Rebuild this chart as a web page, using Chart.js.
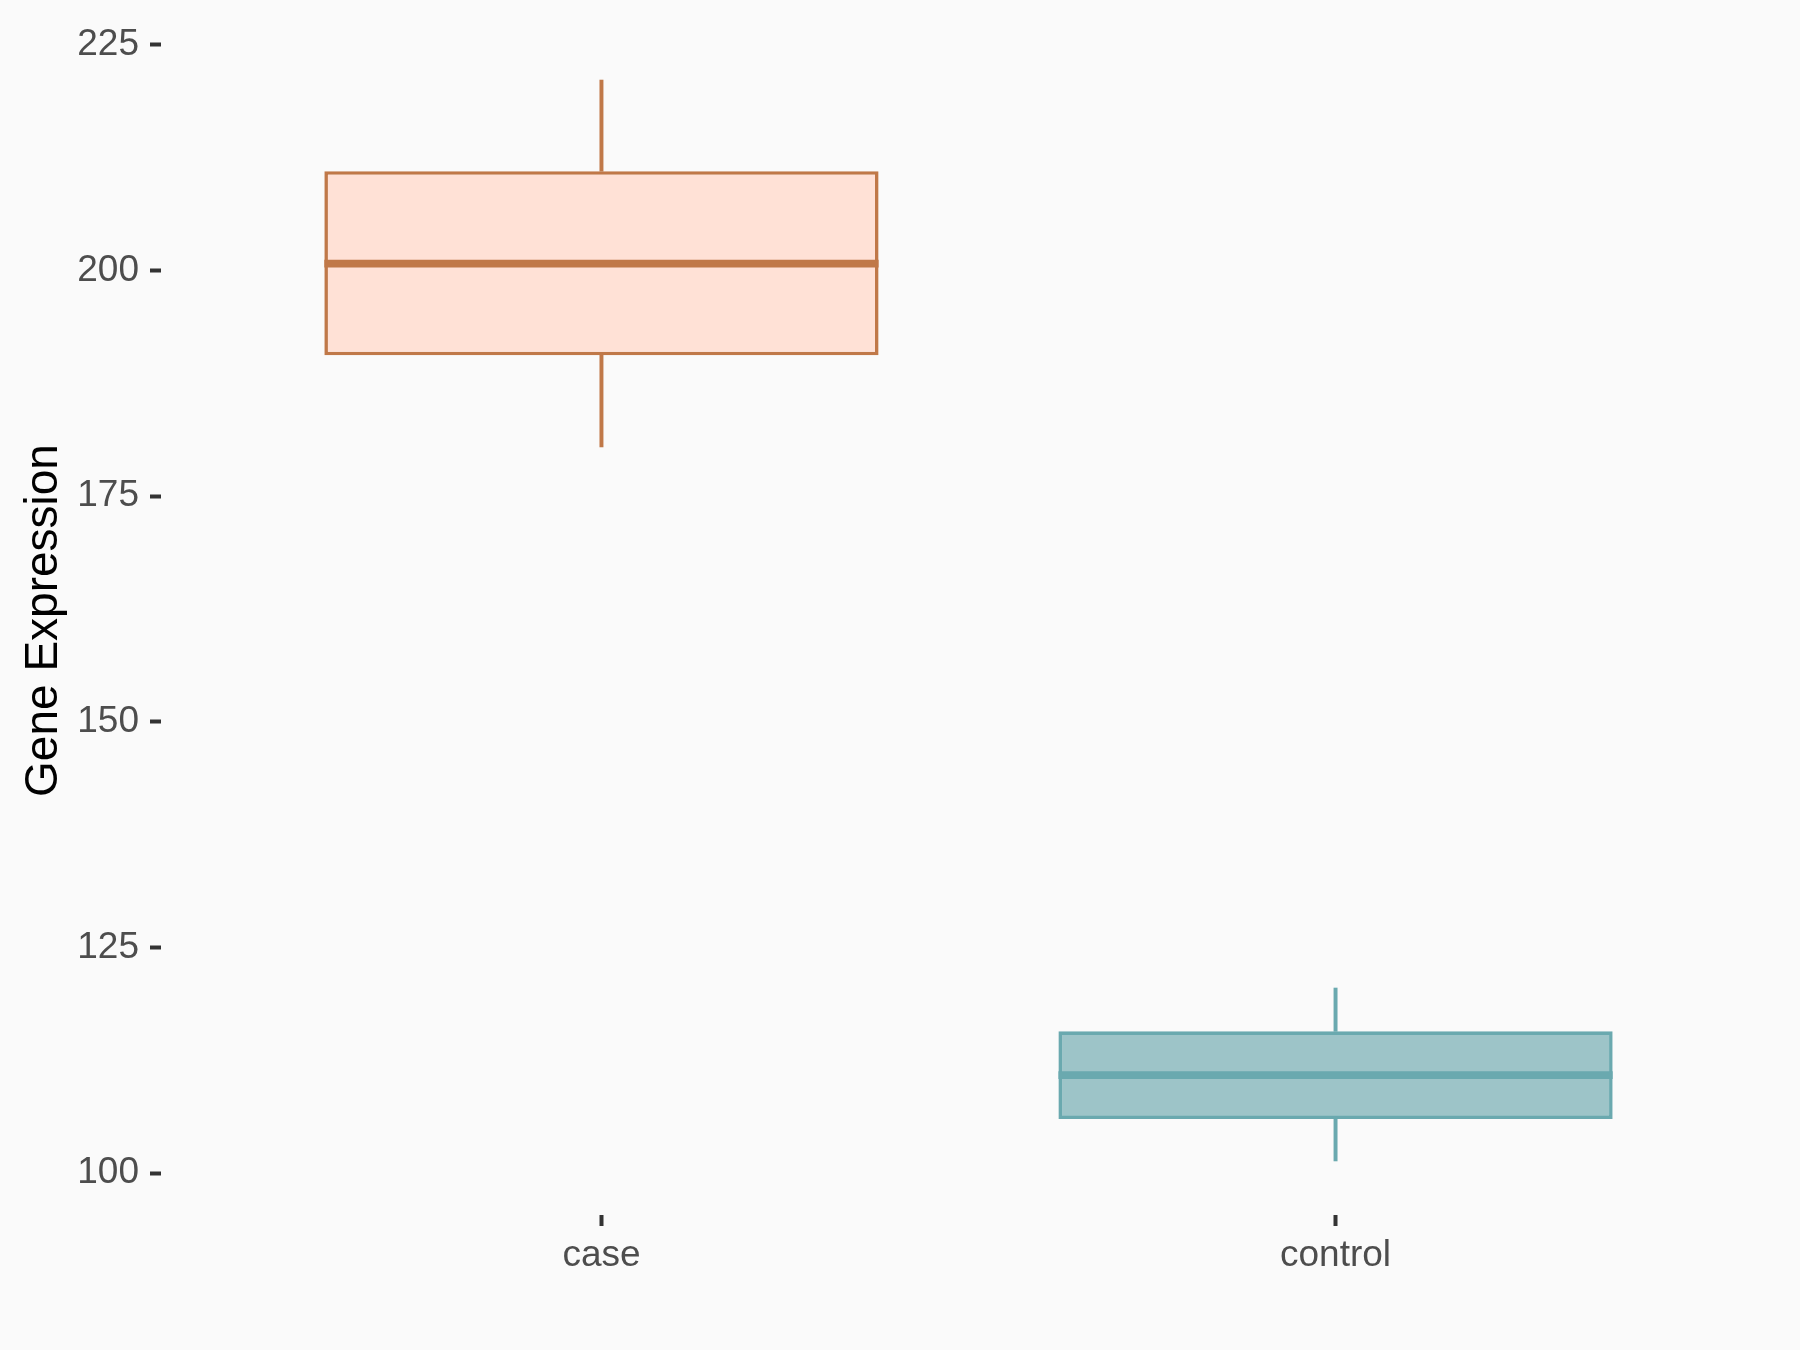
<!DOCTYPE html>
<html>
<head>
<meta charset="utf-8">
<script src="https://cdn.jsdelivr.net/npm/chart.js@4.4.1/dist/chart.umd.min.js"></script>
<style>
  html, body { margin: 0; padding: 0; background: #FAFAFA; }
  #wrap { width: 1800px; height: 1350px; position: relative; }
</style>
</head>
<body>
<div id="wrap"><canvas id="c"></canvas></div>
<script>
// ---- data ----
const categories  = ['case', 'control'];
const whiskerLow  = [180.45, 101.34];
const q1          = [190.6, 106.0];
const median      = [200.77, 110.86];
const q3          = [211.0, 115.7];
const whiskerHigh = [221.1, 120.5];
const yTicks      = [100, 125, 150, 175, 200, 225];

// ---- styles ----
const fillColors = ['#FFE1D6', '#9DC4C8'];
const lineColors = ['#C07848', '#6AA9AF'];

const xs = categories.map((c, i) => i + 1);
const lo = Math.min(...whiskerLow), hi = Math.max(...whiskerHigh);
const yPad = (hi - lo) * 0.05;

const bgPlugin = {
  id: 'bg',
  beforeDraw(chart) {
    const ctx = chart.ctx;
    ctx.save();
    ctx.fillStyle = '#FAFAFA';
    ctx.fillRect(0, 0, chart.width, chart.height);
    ctx.restore();
  }
};

const medianPlugin = {
  id: 'medianLines',
  afterDatasetsDraw(chart) {
    const meta = chart.getDatasetMeta(2); // box dataset
    const y = chart.scales.y;
    const ctx = chart.ctx;
    ctx.save();
    meta.data.forEach((bar, i) => {
      const p = bar.getProps(['x', 'width'], true);
      const py = y.getPixelForValue(median[i]);
      ctx.beginPath();
      ctx.strokeStyle = lineColors[i];
      ctx.lineWidth = 7.7;
      ctx.lineCap = 'butt';
      ctx.moveTo(p.x - p.width / 2, py);
      ctx.lineTo(p.x + p.width / 2, py);
      ctx.stroke();
    });
    ctx.restore();
  }
};

new Chart(document.getElementById('c'), {
  type: 'bar',
  data: {
    datasets: [
      {
        label: 'lower whisker',
        data: xs.map((x, i) => ({ x: x, y: [whiskerLow[i], q1[i]] })),
        backgroundColor: lineColors,
        borderWidth: 0,
        barThickness: 3.3,
        grouped: false
      },
      {
        label: 'upper whisker',
        data: xs.map((x, i) => ({ x: x, y: [q3[i], whiskerHigh[i]] })),
        backgroundColor: lineColors,
        borderWidth: 0,
        barThickness: 3.3,
        grouped: false
      },
      {
        label: 'box',
        data: xs.map((x, i) => ({ x: x, y: [q1[i], q3[i]] })),
        backgroundColor: fillColors,
        borderColor: lineColors,
        borderWidth: 3.6,
        borderSkipped: false,
        barPercentage: 0.755,
        categoryPercentage: 1.0,
        grouped: false
      }
    ]
  },
  options: {
    responsive: true,
    maintainAspectRatio: false,
    animation: false,
    layout: { padding: { left: 0, right: 24, top: 26, bottom: 0 } },
    plugins: {
      legend: { display: false },
      tooltip: { enabled: false },
      title: { display: false }
    },
    scales: {
      x: {
        type: 'linear',
        min: 0.4,
        max: 2.6,
        offset: false,
        afterBuildTicks(scale) {
          scale.ticks = xs.map(v => ({ value: v }));
        },
        afterFit(scale) {
          scale.height = 135;
          scale.paddingLeft = 0; scale.paddingRight = 0;
        },
        ticks: {
          autoSkip: false,
          maxRotation: 0,
          padding: 8,
          color: '#4D4D4D',
          font: { family: 'Arial, "Liberation Sans", sans-serif', size: 37 },
          callback: (v) => categories[Math.round(v) - 1] || ''
        },
        grid: {
          offset: false,
          drawOnChartArea: false,
          drawTicks: true,
          tickLength: 11,
          tickWidth: 4,
          tickColor: '#333333'
        },
        border: { display: false }
      },
      y: {
        type: 'linear',
        min: lo - yPad,
        max: hi + yPad,
        afterBuildTicks(scale) {
          scale.ticks = yTicks.map(v => ({ value: v }));
        },
        afterFit(scale) {
          scale.width = 161;
          scale.paddingTop = 0; scale.paddingBottom = 0;
        },
        ticks: {
          padding: 11,
          color: '#4D4D4D',
          font: { family: 'Arial, "Liberation Sans", sans-serif', size: 37 }
        },
        grid: {
          drawOnChartArea: false,
          drawTicks: true,
          tickLength: 11,
          tickWidth: 4,
          tickColor: '#333333'
        },
        border: { display: false },
        title: {
          display: true,
          text: 'Gene Expression',
          color: '#000000',
          padding: { top: 16.5, bottom: 0 },
          font: { family: 'Arial, "Liberation Sans", sans-serif', size: 46 }
        }
      }
    }
  },
  plugins: [bgPlugin, medianPlugin]
});
</script>
</body>
</html>
